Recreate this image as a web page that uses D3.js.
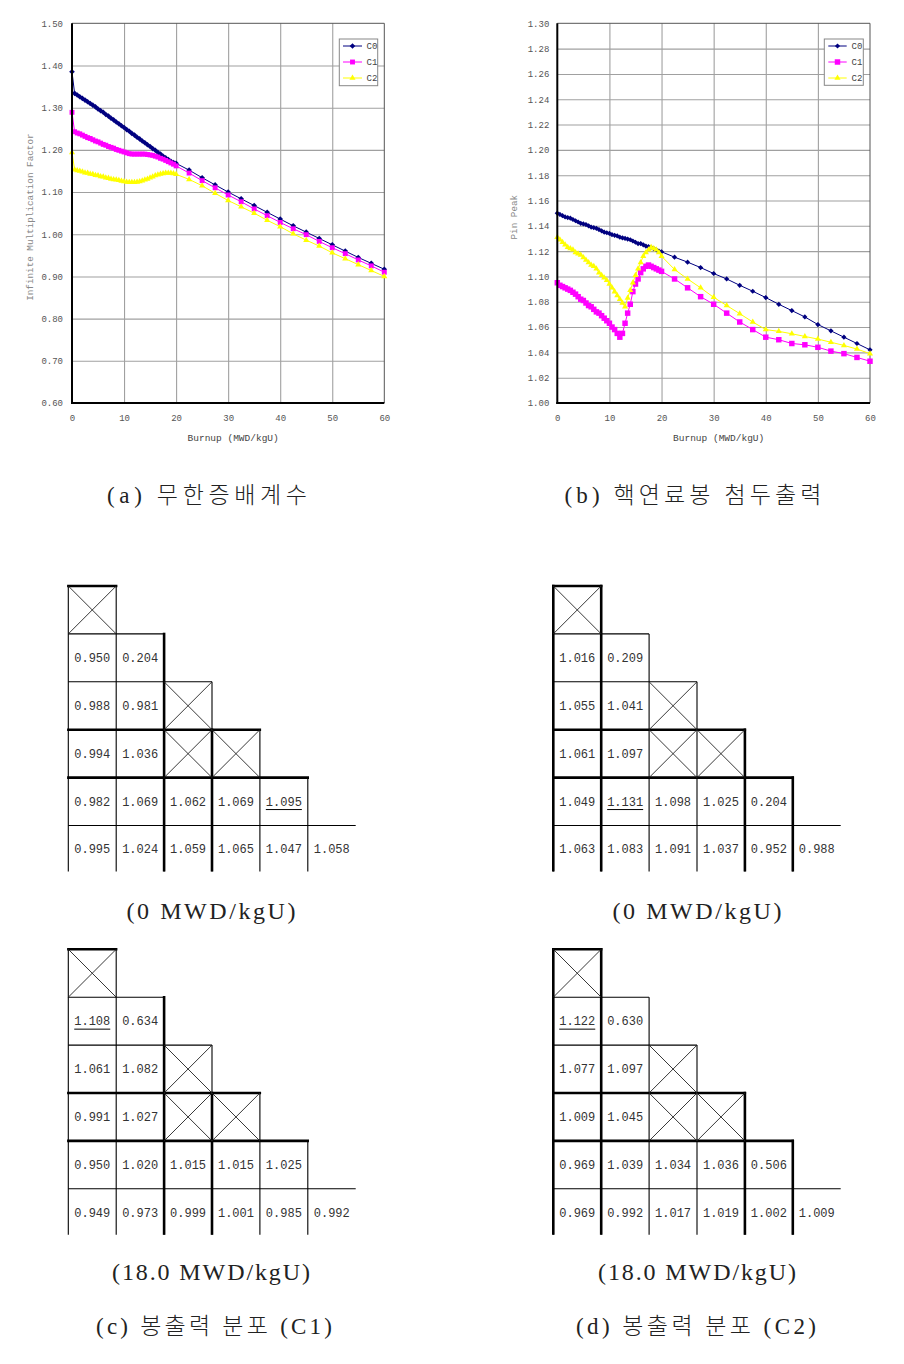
<!DOCTYPE html>
<html><head><meta charset="utf-8">
<script src="https://cdn.jsdelivr.net/npm/d3@7"></script>
<style>body{margin:0;background:#fff}</style>
</head><body><svg id="c" width="904" height="1364"></svg>
<script>
// ---------- DATA ----------
const burnup = [0,0.5,1,1.5,2,2.5,3,3.5,4,4.5,5,5.5,6,6.5,7,7.5,8,8.5,9,9.5,10,10.5,11,11.5,12,12.5,13,13.5,14,14.5,15,15.5,16,16.5,17,17.5,18,18.5,19,19.5,20,22.5,25,27.5,30,32.5,35,37.5,40,42.5,45,47.5,50,52.5,55,57.5,60];
const seriesNames = ["C0","C1","C2"];
const kinfC0 = [1.385,1.334,1.330,1.326,1.322,1.318,1.314,1.310,1.306,1.302,1.297,1.293,1.289,1.284,1.280,1.275,1.271,1.266,1.262,1.257,1.253,1.248,1.244,1.239,1.235,1.230,1.226,1.221,1.217,1.212,1.208,1.203,1.199,1.194,1.190,1.185,1.181,1.177,1.173,1.170,1.168,1.152,1.134,1.117,1.100,1.084,1.068,1.052,1.036,1.020,1.005,0.990,0.975,0.960,0.945,0.931,0.917];
const kinfC1 = [1.289,1.243,1.240,1.238,1.235,1.232,1.229,1.227,1.224,1.221,1.219,1.216,1.213,1.211,1.208,1.206,1.204,1.201,1.199,1.197,1.195,1.193,1.191,1.190,1.190,1.190,1.190,1.190,1.190,1.189,1.188,1.187,1.185,1.183,1.180,1.178,1.175,1.172,1.169,1.166,1.162,1.145,1.127,1.110,1.093,1.077,1.060,1.044,1.028,1.013,0.999,0.983,0.968,0.954,0.939,0.925,0.910];
const kinfC2 = [1.194,1.153,1.151,1.150,1.148,1.146,1.145,1.143,1.142,1.140,1.139,1.137,1.136,1.134,1.133,1.131,1.130,1.129,1.128,1.126,1.125,1.124,1.123,1.123,1.123,1.124,1.125,1.127,1.129,1.131,1.134,1.136,1.139,1.141,1.143,1.144,1.145,1.145,1.145,1.144,1.142,1.130,1.115,1.097,1.080,1.065,1.050,1.033,1.018,1.001,0.986,0.972,0.956,0.942,0.928,0.914,0.900];
const peakC0 = [1.150,1.149,1.148,1.147,1.1465,1.146,1.145,1.144,1.143,1.142,1.1415,1.141,1.140,1.139,1.1385,1.138,1.137,1.136,1.135,1.1345,1.134,1.133,1.1325,1.132,1.131,1.1305,1.130,1.1295,1.129,1.128,1.127,1.126,1.126,1.125,1.124,1.1235,1.123,1.122,1.121,1.120,1.1195,1.1152,1.1113,1.107,1.1023,1.098,1.093,1.0883,1.0833,1.078,1.073,1.068,1.062,1.057,1.052,1.047,1.042];
const peakC1 = [1.095,1.093,1.092,1.091,1.090,1.089,1.0875,1.086,1.084,1.082,1.081,1.079,1.077,1.076,1.074,1.072,1.071,1.069,1.067,1.065,1.063,1.060,1.058,1.055,1.052,1.055,1.063,1.071,1.078,1.088,1.094,1.098,1.103,1.106,1.108,1.109,1.108,1.107,1.106,1.105,1.104,1.098,1.091,1.084,1.078,1.071,1.064,1.058,1.052,1.050,1.047,1.046,1.044,1.041,1.039,1.036,1.033];
const peakC2 = [1.131,1.129,1.127,1.125,1.123,1.122,1.121,1.119,1.118,1.117,1.115,1.113,1.111,1.109,1.108,1.106,1.103,1.101,1.099,1.097,1.094,1.091,1.088,1.085,1.082,1.079,1.076,1.083,1.089,1.095,1.101,1.106,1.111,1.116,1.119,1.121,1.123,1.122,1.121,1.119,1.116,1.1055,1.098,1.091,1.0835,1.077,1.0706,1.064,1.058,1.0566,1.0547,1.0526,1.0505,1.048,1.0455,1.0426,1.039];
const burnupTicks = [0,10,20,30,40,50,60];
const kinfTicks = [0.60,0.70,0.80,0.90,1.00,1.10,1.20,1.30,1.40,1.50];
const peakTicks = [1.00,1.02,1.04,1.06,1.08,1.10,1.12,1.14,1.16,1.18,1.20,1.22,1.24,1.26,1.28,1.30];

// pin power maps (null = guide tube / X cell)
const mapC1_0  = [[null],[0.950,0.204],[0.988,0.981,null],[0.994,1.036,null,null],[0.982,1.069,1.062,1.069,1.095],[0.995,1.024,1.059,1.065,1.047,1.058]];
const mapC2_0  = [[null],[1.016,0.209],[1.055,1.041,null],[1.061,1.097,null,null],[1.049,1.131,1.098,1.025,0.204],[1.063,1.083,1.091,1.037,0.952,0.988]];
const mapC1_18 = [[null],[1.108,0.634],[1.061,1.082,null],[0.991,1.027,null,null],[0.950,1.020,1.015,1.015,1.025],[0.949,0.973,0.999,1.001,0.985,0.992]];
const mapC2_18 = [[null],[1.122,0.630],[1.077,1.097,null],[1.009,1.045,null,null],[0.969,1.039,1.034,1.036,0.506],[0.969,0.992,1.017,1.019,1.002,1.009]];
const peakC1_0 = [4,4], peakC2_0 = [4,1], peakC1_18 = [1,0], peakC2_18 = [1,0];

const captions = {
  a: "(a) 무한증배계수", b: "(b) 핵연료봉 첨두출력",
  bu0: "(0 MWD/kgU)", bu18: "(18.0 MWD/kgU)",
  c: "(c) 봉출력 분포 (C1)", d: "(d) 봉출력 분포 (C2)"
};

// ---------- DRAW ----------
const svg = d3.select('#c');
svg.append('rect').attr('width',904).attr('height',1364).attr('fill','#fff');
const MONO = "'Liberation Mono','DejaVu Sans Mono',monospace";
const colors = ['#000080','#ff00ff','#ffff00'];

const diamondPath = r => `M0,${-r}L${r},0L0,${r}L${-r},0Z`;
function markerPath(i, big){
  if(i===0) return diamondPath(big?2.6:2.8);
  if(i===1) return d3.symbol(d3.symbolSquare, big?30:24)();
  return d3.symbol(d3.symbolTriangle, 16)();
}

function drawChart(cfg){
  const g = svg.append('g');
  const x = d3.scaleLinear().domain([0,60]).range([cfg.left,cfg.right]);
  const y = d3.scaleLinear().domain(cfg.domain).range([cfg.bottom,cfg.top]);
  g.append('g').attr('transform',`translate(0,${cfg.bottom})`)
    .call(d3.axisBottom(x).tickValues(burnupTicks.slice(1,-1)).tickSize(-(cfg.bottom-cfg.top)).tickFormat(''))
    .call(s=>{s.select('.domain').remove(); s.selectAll('line').attr('stroke','#a0a0a0').attr('stroke-width',1.1);});
  g.append('g').attr('transform',`translate(${cfg.left},0)`)
    .call(d3.axisLeft(y).tickValues(cfg.ticks.slice(1,-1)).tickSize(-(cfg.right-cfg.left)).tickFormat(''))
    .call(s=>{s.select('.domain').remove(); s.selectAll('line').attr('stroke','#a0a0a0').attr('stroke-width',1.1);});
  g.append('line').attr('x1',cfg.left).attr('x2',cfg.right).attr('y1',cfg.top).attr('y2',cfg.top).attr('stroke','#555');
  g.append('line').attr('x1',cfg.right).attr('x2',cfg.right).attr('y1',cfg.top).attr('y2',cfg.bottom).attr('stroke','#555');
  g.append('g').attr('transform',`translate(${cfg.left},0)`)
    .call(d3.axisLeft(y).tickValues(cfg.ticks).tickFormat(d3.format('.2f')).tickSize(0).tickPadding(cfg.yPad))
    .call(s=>{s.select('.domain').remove(); s.attr('font-family',MONO).attr('font-size',9); s.selectAll('text').attr('fill','#555');});
  g.append('g').attr('transform',`translate(0,${cfg.bottom})`)
    .call(d3.axisBottom(x).tickValues(burnupTicks).tickFormat(d3.format('d')).tickSize(0).tickPadding(12))
    .call(s=>{s.select('.domain').remove(); s.attr('font-family',MONO).attr('font-size',9); s.selectAll('text').attr('fill','#555');});
  g.append('text').attr('x',(cfg.left+cfg.right)/2+5).attr('y',441).attr('text-anchor','middle')
    .attr('font-family',MONO).attr('font-size',9.5).attr('fill','#444').text('Burnup (MWD/kgU)');
  g.append('text').attr('transform',`translate(${cfg.yTitleX},${(cfg.top+cfg.bottom)/2+4}) rotate(-90)`)
    .attr('text-anchor','middle').attr('font-family',MONO).attr('font-size',9.3).attr('fill','#888').text(cfg.yTitle);
  const line = d3.line().x((d,i)=>x(burnup[i])).y(d=>y(d));
  cfg.series.forEach((vals,si)=>{
    g.append('path').attr('d',line(vals)).attr('fill','none').attr('stroke',colors[si]).attr('stroke-width',1);
    g.append('g').selectAll('path').data(vals).join('path')
      .attr('transform',(d,i)=>`translate(${x(burnup[i])},${y(d)})`)
      .attr('d',markerPath(si,cfg.big)).attr('fill',colors[si]);
  });
  g.append('line').attr('x1',cfg.left).attr('x2',cfg.left).attr('y1',cfg.top).attr('y2',cfg.bottom+1).attr('stroke','#000').attr('stroke-width',2);
  g.append('line').attr('x1',cfg.left-1).attr('x2',cfg.right).attr('y1',cfg.bottom).attr('y2',cfg.bottom).attr('stroke','#000').attr('stroke-width',2);
  const L = cfg.legend;
  const lg = g.append('g');
  lg.append('rect').attr('x',L.x).attr('y',L.y).attr('width',L.w).attr('height',L.h).attr('fill','#fff').attr('stroke','#888');
  seriesNames.forEach((n,si)=>{
    const yy = L.y+7+si*16;
    lg.append('line').attr('x1',L.lx0).attr('x2',L.lx1).attr('y1',yy).attr('y2',yy).attr('stroke',colors[si]);
    lg.append('path').attr('transform',`translate(${(L.lx0+L.lx1)/2},${yy})`).attr('d',markerPath(si,cfg.big)).attr('fill',colors[si]);
    lg.append('text').attr('x',L.tx).attr('y',yy+3).attr('font-family',MONO).attr('font-size',9).attr('fill','#444').text(n);
  });
}

drawChart({left:72,right:384.3,top:23.3,bottom:403,domain:[0.6,1.5],ticks:kinfTicks,yPad:9,
  yTitle:'Infinite Multiplication Factor',yTitleX:33,series:[kinfC0,kinfC1,kinfC2],big:false,
  legend:{x:339.3,y:39,w:38.4,h:46.7,lx0:343,lx1:362,tx:366.5}});
drawChart({left:557.3,right:870,top:23.3,bottom:403,domain:[1.0,1.3],ticks:peakTicks,yPad:8,
  yTitle:'Pin Peak',yTitleX:517,series:[peakC0,peakC1,peakC2],big:true,
  legend:{x:824.3,y:39,w:39,h:46.3,lx0:828.3,lx1:846.7,tx:851.5}});

const thickC1 = {h:[[0,0,1],[3,0,4],[4,0,5]], v:[[2,1,6],[3,3,6]]};
const thickC2 = {h:[[0,0,1],[3,0,4],[4,0,5]], v:[[0,0,6],[1,0,6],[4,3,6],[5,4,6]]};

function drawMap(x0,y0,vals,peak,thick){
  const cs = 47.9;
  const g = svg.append('g');
  const cx = i => x0 + i*cs;
  const ry = j => j>=6 ? y0 + 5*cs + 46 : y0 + j*cs;
  const thin = [];
  for(let r=0;r<6;r++) thin.push([cx(0),ry(r),cx(r+1),ry(r)]);
  for(let c=0;c<6;c++) thin.push([cx(c),ry(Math.max(c-1,0)),cx(c),ry(6)]);
  g.selectAll('line.t').data(thin).join('line').attr('class','t')
    .attr('x1',d=>d[0]).attr('y1',d=>d[1]).attr('x2',d=>d[2]).attr('y2',d=>d[3])
    .attr('stroke','#000').attr('stroke-width',1.1);
  const tk = thick.h.map(h=>[cx(h[1])-1.2,ry(h[0]),cx(h[2])+1.2,ry(h[0])])
    .concat(thick.v.map(v=>[cx(v[0]),ry(v[1])-1.2,cx(v[0]),ry(v[2])]));
  g.selectAll('line.k').data(tk).join('line').attr('class','k')
    .attr('x1',d=>d[0]).attr('y1',d=>d[1]).attr('x2',d=>d[2]).attr('y2',d=>d[3])
    .attr('stroke','#000').attr('stroke-width',2.6);
  vals.forEach((row,r)=>row.forEach((v,c)=>{
    if(v===null){
      g.append('path').attr('d',`M${cx(c)},${ry(r)}L${cx(c+1)},${ry(r+1)}M${cx(c+1)},${ry(r)}L${cx(c)},${ry(r+1)}`)
        .attr('stroke','#222').attr('stroke-width',0.9).attr('fill','none');
    } else {
      const t = g.append('text').attr('x',cx(c)+cs/2).attr('y',ry(r)+cs/2+4).attr('text-anchor','middle')
        .attr('font-family',MONO).attr('font-size',12).attr('fill','#333').text(d3.format('.3f')(v));
      if(r===peak[0] && c===peak[1]){
        const w = t.node().getComputedTextLength();
        g.append('line').attr('x1',cx(c)+cs/2-w/2).attr('x2',cx(c)+cs/2+w/2)
          .attr('y1',ry(r)+cs/2+8).attr('y2',ry(r)+cs/2+8).attr('stroke','#000').attr('stroke-width',1);
      }
    }
  }));
}
drawMap(68.3,586,mapC1_0,peakC1_0,thickC1);
drawMap(553.3,586,mapC2_0,peakC2_0,thickC2);
drawMap(68.3,949.3,mapC1_18,peakC1_18,thickC1);
drawMap(553.3,949.3,mapC2_18,peakC2_18,thickC2);

const SERIF = "'Liberation Serif','Noto Sans CJK KR',serif";
function caption(txt,cx,cy,w,size){
  svg.append('text').attr('x',cx-w/2).attr('y',cy).attr('dy','0.35em')
    .attr('textLength',w).attr('lengthAdjust','spacing')
    .attr('font-family',SERIF).attr('font-size',size).attr('font-weight',300).attr('fill','#222').text(txt);
}
caption(captions.a,207,495,200,23);
caption(captions.b,693,495,257,23);
caption(captions.bu0,211,911,169,24);
caption(captions.bu0,697,911,169,24);
caption(captions.bu18,211,1272,198,24);
caption(captions.bu18,697,1272,198,24);
caption(captions.c,214,1326,236,23);
caption(captions.d,696,1326,240,23);
</script></body></html>
